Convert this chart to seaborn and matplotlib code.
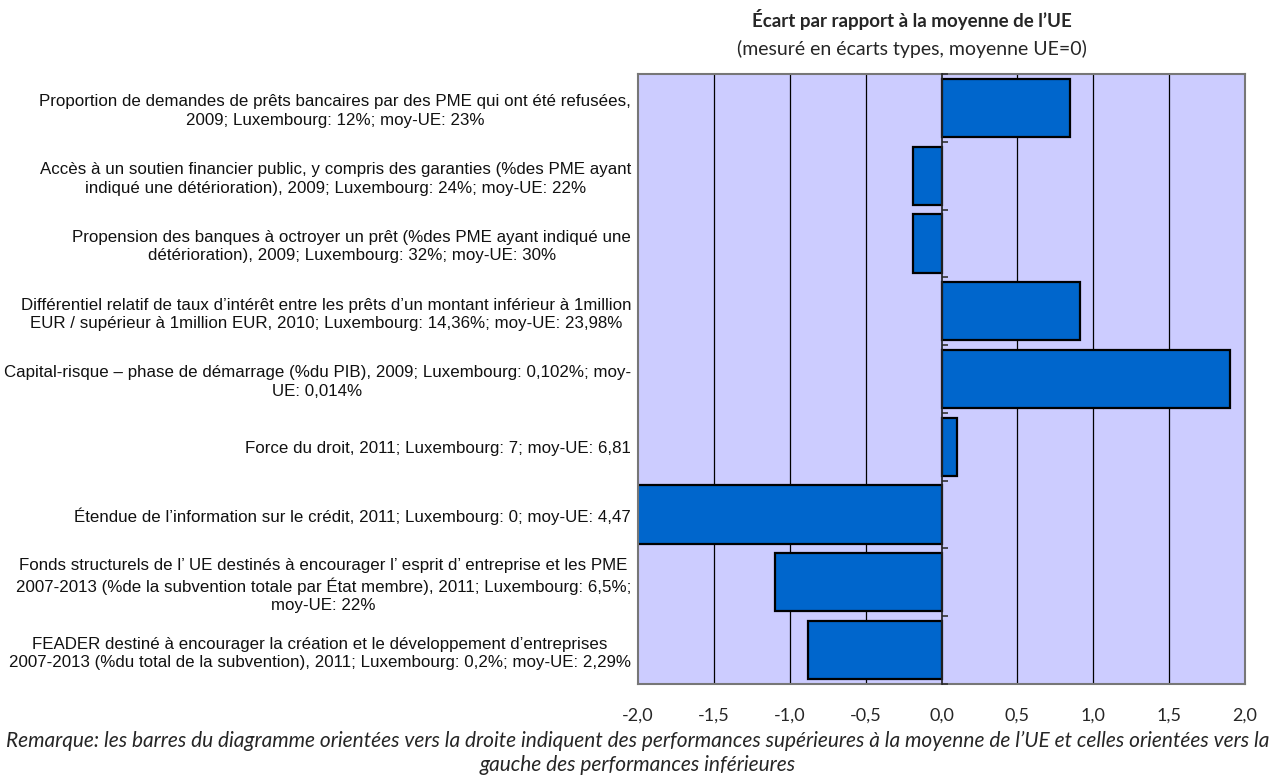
import matplotlib
matplotlib.use("Agg")
import matplotlib.pyplot as plt
import seaborn as sns
import pandas as pd

categories = [
    "Proportion de demandes de prêts bancaires par des PME qui ont été refusées,\n2009; Luxembourg: 12%; moy-UE: 23%",
    "Accès à un soutien financier public, y compris des garanties (%des PME ayant\nindiqué une détérioration), 2009; Luxembourg: 24%; moy-UE: 22%",
    "Propension des banques à octroyer un prêt (%des PME ayant indiqué une\ndétérioration), 2009; Luxembourg: 32%; moy-UE: 30%",
    "Différentiel relatif de taux d’intérêt entre les prêts d’un montant inférieur à 1million\nEUR / supérieur à 1million EUR, 2010; Luxembourg: 14,36%; moy-UE: 23,98%",
    "Capital-risque – phase de démarrage (%du PIB), 2009; Luxembourg: 0,102%; moy-\nUE: 0,014%",
    "Force du droit, 2011; Luxembourg: 7; moy-UE: 6,81",
    "Étendue de l’information sur le crédit, 2011; Luxembourg: 0; moy-UE: 4,47",
    "Fonds structurels de l’ UE destinés à encourager l’ esprit d’ entreprise et les PME\n2007-2013 (%de la subvention totale par État membre), 2011; Luxembourg: 6,5%;\nmoy-UE: 22%",
    "FEADER destiné à encourager la création et le développement d’entreprises\n2007-2013 (%du total de la subvention), 2011; Luxembourg: 0,2%; moy-UE: 2,29%",
]
values = [0.85, -0.19, -0.19, 0.91, 1.90, 0.10, -2.30, -1.10, -0.88]
x_ticks = [-2.0, -1.5, -1.0, -0.5, 0.0, 0.5, 1.0, 1.5, 2.0]
x_tick_labels = ["-2,0", "-1,5", "-1,0", "-0,5", "0,0", "0,5", "1,0", "1,5", "2,0"]

title = "Écart par rapport à la moyenne de l’UE"
subtitle = "(mesuré en écarts types, moyenne UE=0)"
note = ("Remarque: les barres du diagramme orientées vers la droite indiquent des performances supérieures à la moyenne de l’UE et celles orientées vers la\n"
        "gauche des performances inférieures")

df = pd.DataFrame({"cat": categories, "val": values})

sns.set_theme(style="white")
plt.rcParams["font.family"] = ["Liberation Sans", "DejaVu Sans"]

W, H = 1274, 780
fig = plt.figure(figsize=(W / 100, H / 100), dpi=100)
ax = fig.add_axes([638 / W, 1 - 684 / H, (1245 - 638) / W, (684 - 74) / H])
ax.set_facecolor("#CCCCFF")

for xv in x_ticks[1:-1]:
    if xv != 0:
        ax.axvline(xv, color="#000000", lw=0.9, zorder=0.5)

sns.barplot(data=df, y="cat", x="val", orient="h", color="#0066CC",
            saturation=1, width=0.86, edgecolor="black", linewidth=1.6, ax=ax, zorder=2)

ax.set_xlim(-2.0, 2.0)
ax.set_ylim(len(categories) - 0.5, -0.5)
ax.set_xticks(x_ticks)
ax.set_xticklabels(x_tick_labels, fontfamily=["Lato", "DejaVu Sans"], fontsize=13)
ax.tick_params(axis="x", length=0, pad=17)
ax.tick_params(axis="y", length=0, pad=5)
for lab in ax.get_yticklabels():
    lab.set_fontsize(12.2)
    lab.set_multialignment("center")
    lab.set_linespacing(1.28)
    lab.set_color("#111111")
ax.set_xlabel("")
ax.set_ylabel("")
for sp in ax.spines.values():
    sp.set_color("#777777")
    sp.set_linewidth(1.5)

# zero axis with category-boundary ticks
sec = ax.secondary_yaxis(0.5)
sec.set_yticks([i + 0.5 for i in range(-1, len(categories))])
sec.set_yticklabels([])
sec.tick_params(axis="y", length=4, width=1.2, color="#333333", direction="out")
sec.spines["left"].set_color("black")
sec.spines["left"].set_linewidth(1.4)
sec.set_zorder(3)

fig.text(912 / W, 1 - 19 / H, title, ha="center", va="center", fontsize=13.5,
         fontweight="bold", family=["Lato", "DejaVu Sans"])
fig.text(912 / W, 1 - 49 / H, subtitle, ha="center", va="center", fontsize=14,
         family=["Lato", "DejaVu Sans"])
fig.text(638 / W, 1 - 753 / H, note, ha="center", va="center", fontsize=15,
         style="italic", family=["Lato", "DejaVu Sans"], linespacing=1.2)

fig.savefig("out.png", dpi=100)
